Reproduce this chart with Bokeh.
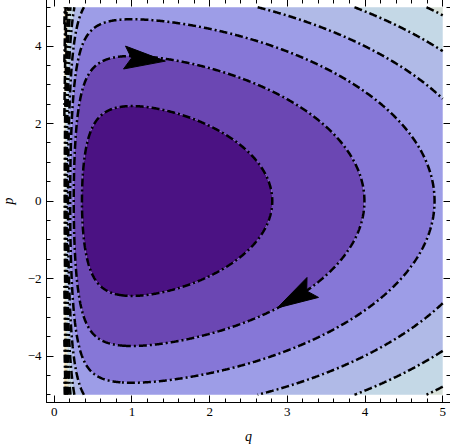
import numpy as np
from bokeh.plotting import figure
from bokeh.models import LinearAxis, FixedTicker, Range1d
from bokeh.embed import file_html
from bokeh.resources import INLINE

# ---- data ----
q_min, q_max = 0.13, 5.0
p_min, p_max = -5.0, 5.0
levels = [0, 4, 8, 12, 16, 20, 24, 28, 32, 36, 40, 44]
band_colors = ["#4B1283", "#6B47B3", "#8677D7", "#9D9DE7", "#B0BAE7",
               "#C4D8E6", "#D6DFD8", "#E4DEC3", "#EDD9AD", "#F1D39A", "#F3CD89"]
x_ticks = [0, 1, 2, 3, 4, 5]
x_minor = [0.2, 0.4, 0.6, 0.8, 1.2, 1.4, 1.6, 1.8, 2.2, 2.4, 2.6, 2.8,
           3.2, 3.4, 3.6, 3.8, 4.2, 4.4, 4.6, 4.8]
y_ticks = [-4, -2, 0, 2, 4]
y_minor = [-5, -4.5, -3.5, -3, -2.5, -1.5, -1, -0.5, 0.5, 1, 1.5, 2.5, 3, 3.5, 4.5, 5]
y_tick_labels = {-4: "\u22124", -2: "\u22122", 0: "0", 2: "2", 4: "4"}
arrow_tip_q = [1.43, 2.87]
arrow_tip_p = [3.61, -2.76]
arrow_angle_deg = [-5, 210]

# ---- field (Hamiltonian) ----
qg = np.linspace(q_min, q_max, 500)
pg = np.linspace(p_min, p_max, 500)
Q, P = np.meshgrid(qg, pg)
H = 0.5 * (P ** 2 + Q ** 2 + 1.0 / Q ** 2)

x0, x1 = -0.1, 5.1
y0, y1 = -5.2, 5.2
FW, FH = 404, 403

p = figure(frame_width=FW, frame_height=FH, x_range=Range1d(x0, x1), y_range=Range1d(y0, y1),
           output_backend="svg", toolbar_location=None,
           min_border_left=44, min_border_right=2, min_border_top=1, min_border_bottom=43)
p.styles = {"margin-left": "-3px", "margin-top": "-2px"}
p.grid.visible = False
p.outline_line_color = "black"
p.background_fill_color = "white"
p.border_fill_color = "white"

p.contour(Q, P, H, levels=levels, fill_color=band_colors,
          line_color="black", line_width=2.5, line_dash="8 3 2 3")

# arrowheads
sx = FW / (x1 - x0)
sy = FH / (y1 - y0)
L, W, N = 41.0, 23.0, 0.83
xs, ys = [], []
for tq, tp, a in zip(arrow_tip_q, arrow_tip_p, arrow_angle_deg):
    r = np.deg2rad(a)
    ux, uy = np.cos(r), np.sin(r)
    nx, ny = -uy, ux
    pts = [(0, 0), (-L * ux + W / 2 * nx, -L * uy + W / 2 * ny),
           (-N * L * ux, -N * L * uy), (-L * ux - W / 2 * nx, -L * uy - W / 2 * ny)]
    xs.append([tq + dx / sx for dx, dy in pts])
    ys.append([tp + dy / sy for dx, dy in pts])
p.patches(xs, ys, fill_color="black", line_color="black", line_width=1)

font = "Liberation Serif"
def style_axis(ax, labels=True):
    ax.axis_line_color = "black"
    ax.major_tick_in = 7
    ax.major_tick_out = 0
    ax.minor_tick_in = 4
    ax.minor_tick_out = 0
    ax.major_tick_line_color = "black"
    ax.minor_tick_line_color = "black"
    ax.major_label_text_font = font
    if labels:
        ax.major_label_text_font_size = "13px"
        ax.major_label_text_color = "black"
        ax.major_label_standoff = 5
    else:
        ax.major_label_text_font_size = "0px"
        ax.major_label_text_alpha = 0
        ax.major_label_standoff = 0

p.xaxis.ticker = FixedTicker(ticks=x_ticks, minor_ticks=x_minor)
p.yaxis.ticker = FixedTicker(ticks=y_ticks, minor_ticks=y_minor)
p.yaxis.major_label_overrides = y_tick_labels
style_axis(p.xaxis[0])
style_axis(p.yaxis[0])
p.xaxis.axis_label = "q"
p.yaxis.axis_label = "p"
for ax in (p.xaxis[0], p.yaxis[0]):
    ax.axis_label_text_font = font
    ax.axis_label_text_font_style = "italic"
    ax.axis_label_text_font_size = "14px"
    ax.axis_label_text_color = "black"
p.xaxis.axis_label_standoff = 10
p.yaxis.axis_label_standoff = 9

top = LinearAxis(ticker=FixedTicker(ticks=x_ticks, minor_ticks=x_minor))
right = LinearAxis(ticker=FixedTicker(ticks=y_ticks, minor_ticks=y_minor))
style_axis(top, labels=False)
style_axis(right, labels=False)
p.add_layout(top, "above")
p.add_layout(right, "right")

open("out.html", "w").write(file_html(p, INLINE))
